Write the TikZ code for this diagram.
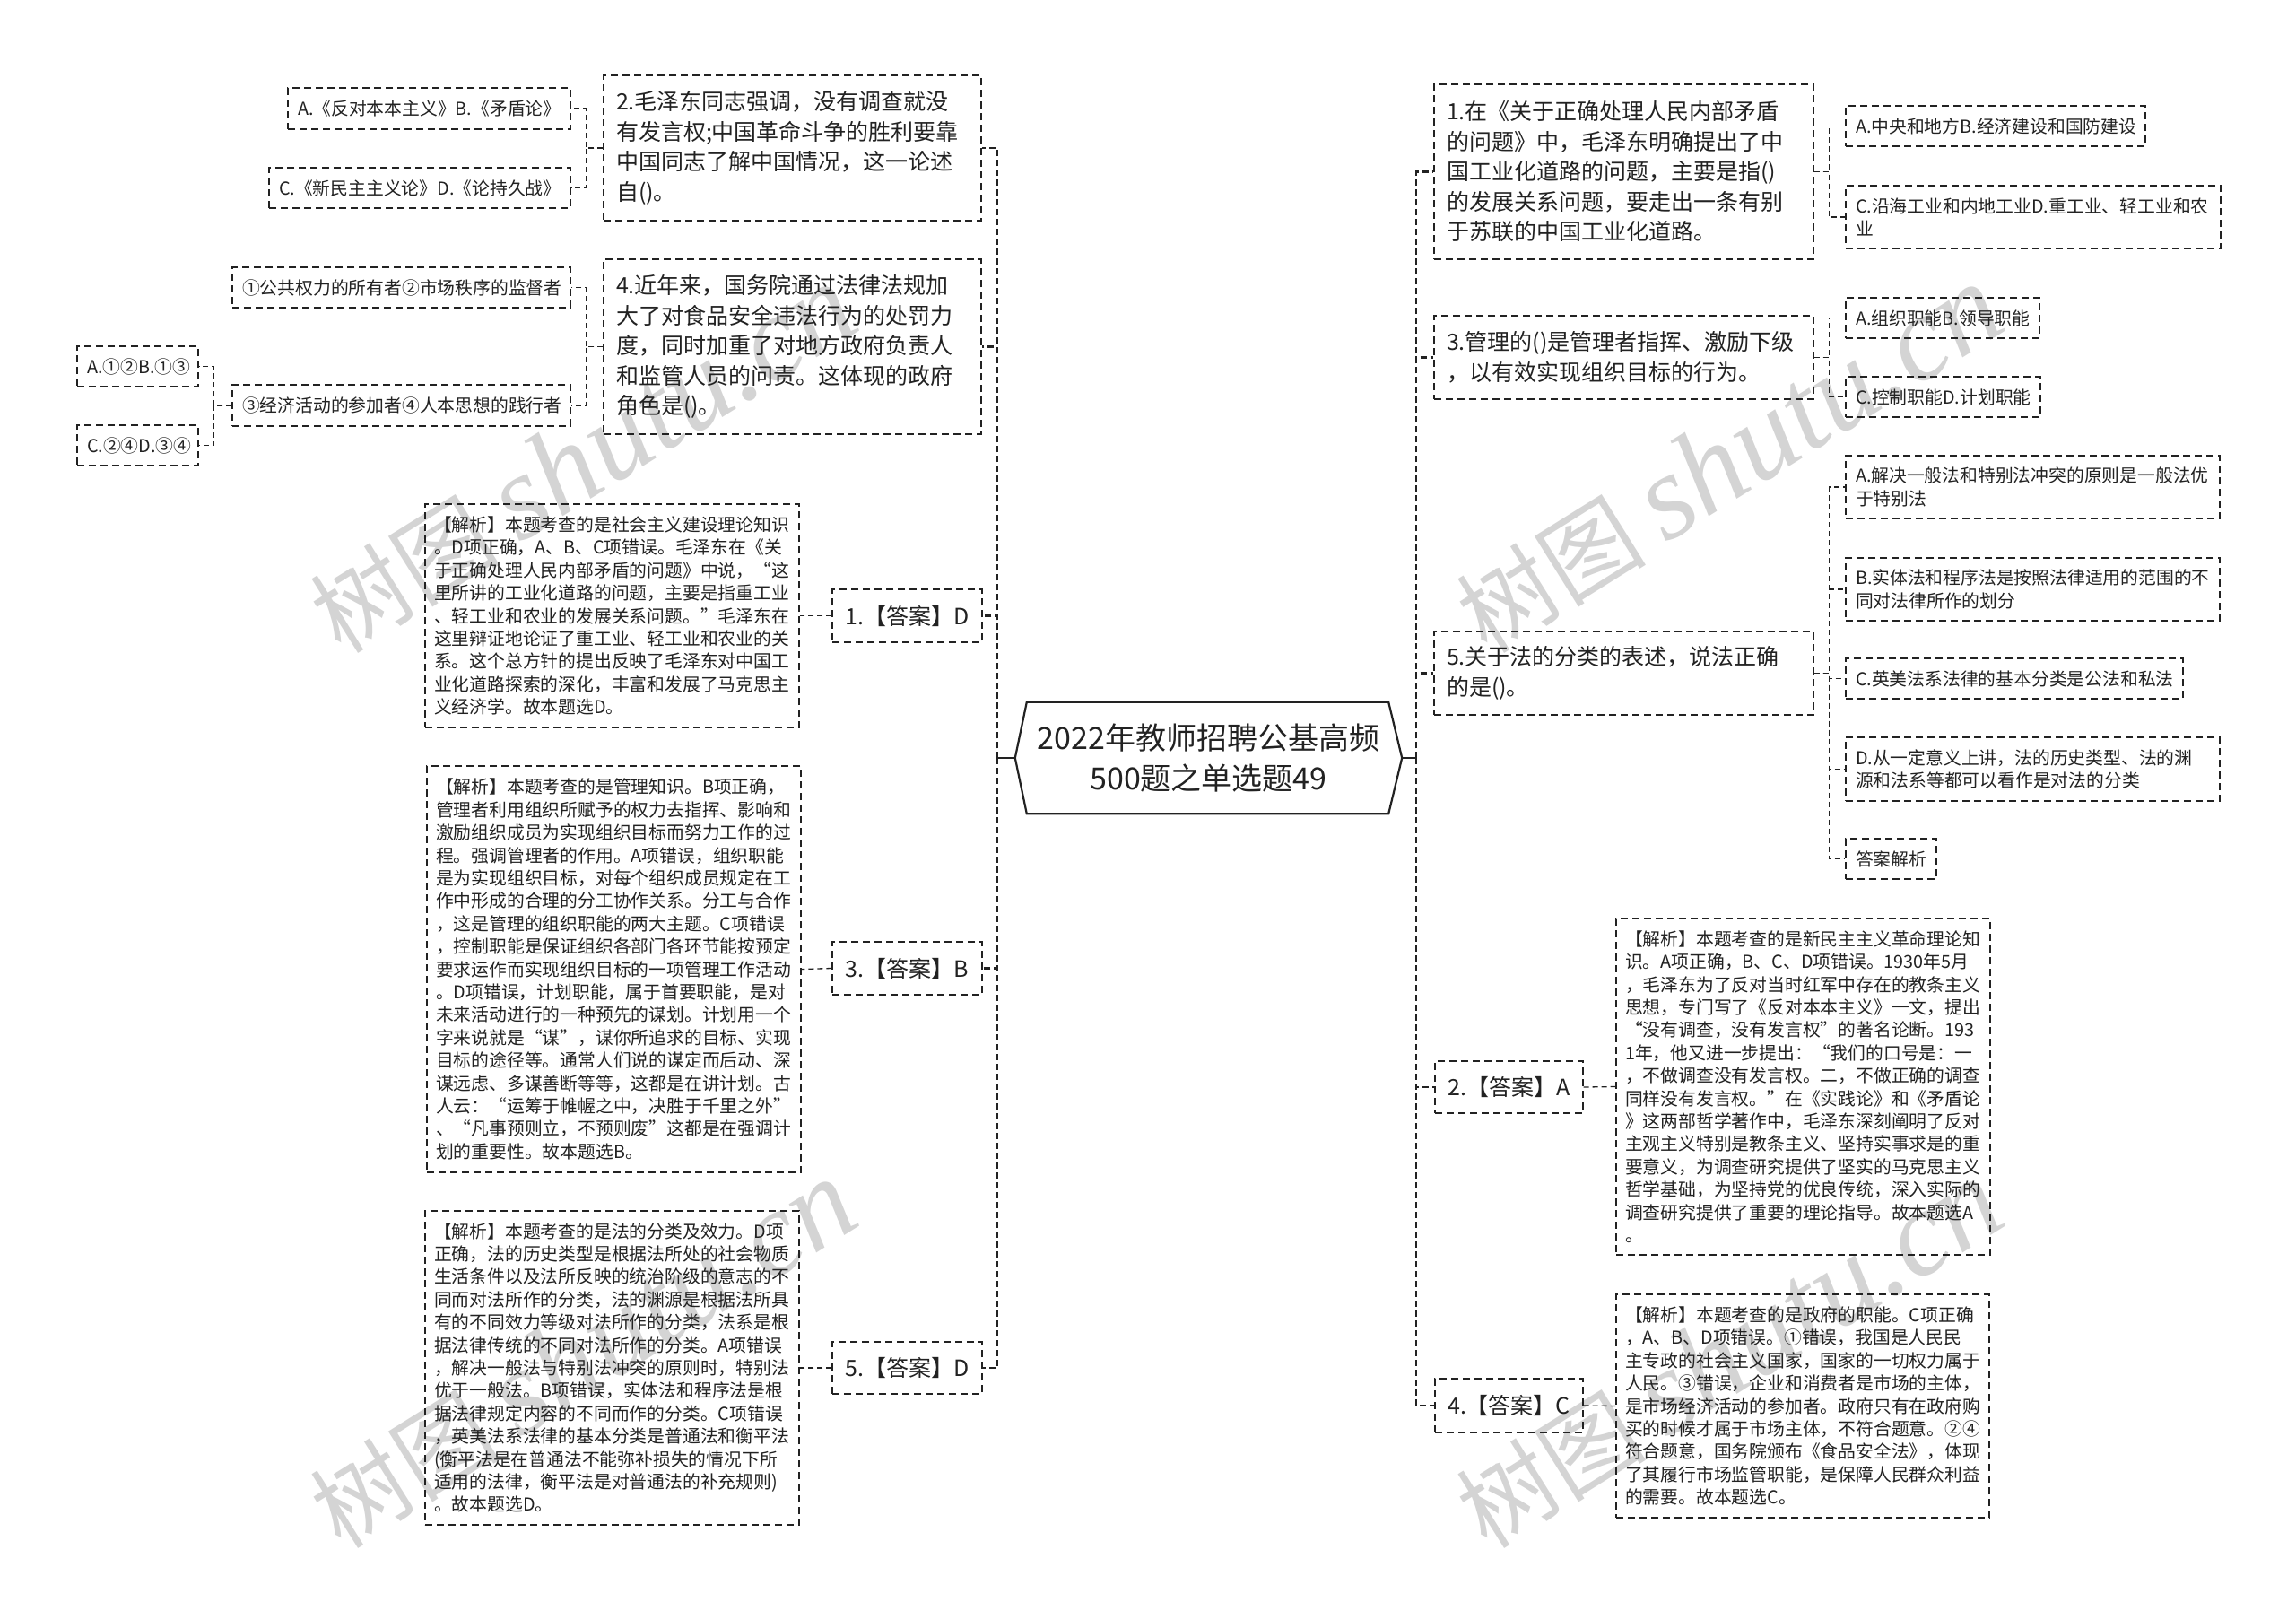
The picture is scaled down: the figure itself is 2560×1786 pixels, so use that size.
\documentclass[tikz,border=0pt]{standalone}
\usepackage{fontspec}
\setmainfont{Noto Sans CJK SC}
\newfontfamily\wmserif{Liberation Serif}
\usetikzlibrary{calc}
\definecolor{ink}{HTML}{222222}
\definecolor{wmgray}{HTML}{D4D4D4}
\newcommand{\wmtext}{{\fontsize{106pt}{106pt}\selectfont 树图}\hspace{22pt}{\wmserif\itshape\fontsize{135pt}{135pt}\selectfont shutu.cn}}
\tikzset{
  box/.style={draw=ink, line width=1.3pt, dash pattern=on 8pt off 5pt, rectangle,
    inner xsep=11pt, inner ysep=0pt, align=left, text=ink,
    font={\fontsize{19.8pt}{25.4pt}\selectfont}},
  qbox/.style={box, inner xsep=14pt, font={\fontsize{25pt}{33.5pt}\selectfont}},
  ansbox/.style={box, inner xsep=0pt, align=center, font={\fontsize{25pt}{30pt}\selectfont}},
  link/.style={draw=ink, line width=1.3pt, dash pattern=on 6pt off 4pt},
  trunk/.style={draw=ink, line width=2.4pt, dash pattern=on 7pt off 4pt},
  stub/.style={draw=ink, line width=2.4pt},
  rootnode/.style={draw=none, align=center, text=ink, inner sep=0pt,
    font={\fontsize{34pt}{44pt}\selectfont}},
  rootline/.style={draw=ink, line width=2.2pt, line join=miter},
  wm/.style={text=wmgray, inner sep=0pt, rotate=32}
}
\begin{document}
\begin{tikzpicture}[x=1pt,y=-1pt]
\path[use as bounding box] (0,0) rectangle (2560,1786);
\fill[white] (0,0) rectangle (2560,1786);

% watermarks
\node[wm] (wm1) at (650,512) {\wmtext};
\node[wm] (wm2) at (650,1510) {\wmtext};
\node[wm] (wm3) at (1928,512) {\wmtext};
\node[wm] (wm4) at (1928,1510) {\wmtext};

% root
\node[rootnode, minimum width=431pt, minimum height=124pt] (root) at (1347.5,845)
  {2022年教师招聘公基高频\\500题之单选题49};
\draw[rootline] (root.west) -- ([xshift=13pt]root.north west) -- ([xshift=-15pt]root.north east)
  -- (root.east) -- ([xshift=-15pt]root.south east) -- ([xshift=13pt]root.south west) -- cycle;

% ---------- left side ----------
\node[qbox, text width=393pt, minimum height=162pt] (q2) at (883.5,165)
  {2.毛泽东同志强调，没有调查就没\\有发言权;中国革命斗争的胜利要靠\\中国同志了解中国情况，这一论述\\自()。};
\node[qbox, text width=393pt, minimum height=195pt] (q4) at (883.5,386.5)
  {4.近年来，国务院通过法律法规加\\大了对食品安全违法行为的处罚力\\度，同时加重了对地方政府负责人\\和监管人员的问责。这体现的政府\\角色是()。};

\node[box, text width=293pt, minimum height=46pt] (o2a) at (478.5,121) {A.《反对本本主义》B.《矛盾论》};
\node[box, text width=314pt, minimum height=45pt] (o2c) at (468,209.5) {C.《新民主主义论》D.《论持久战》};
\node[box, text width=355pt, minimum height=45pt] (o4a) at (447.5,320.5) {①公共权力的所有者②市场秩序的监督者};
\node[box, text width=355pt, minimum height=46pt] (o4c) at (447.5,452) {③经济活动的参加者④人本思想的践行者};
\node[box, text width=113pt, minimum height=45pt] (o4ca) at (153.5,408.5) {A.①②B.①③};
\node[box, text width=113pt, minimum height=45pt] (o4cc) at (153.5,496.5) {C.②④D.③④};

\node[ansbox, minimum width=167pt, minimum height=59pt] (a1) at (1011.5,686.5) {1.【答案】D};
\node[ansbox, minimum width=167pt, minimum height=59pt] (a3) at (1011.5,1079.5) {3.【答案】B};
\node[ansbox, minimum width=167pt, minimum height=58pt] (a5) at (1011.5,1525) {5.【答案】D};

\node[box, inner xsep=10pt, text width=397pt, minimum height=249pt] (an1) at (682.5,686.5)
  {【解析】本题考查的是社会主义建设理论知识\\。D项正确，A、B、C项错误。毛泽东在《关\\于正确处理人民内部矛盾的问题》中说，“这\\里所讲的工业化道路的问题，主要是指重工业\\、轻工业和农业的发展关系问题。”毛泽东在\\这里辩证地论证了重工业、轻工业和农业的关\\系。这个总方针的提出反映了毛泽东对中国工\\业化道路探索的深化，丰富和发展了马克思主\\义经济学。故本题选D。};
\node[box, inner xsep=10pt, text width=397pt, minimum height=453pt] (an3) at (684.5,1080.5)
  {【解析】本题考查的是管理知识。B项正确，\\管理者利用组织所赋予的权力去指挥、影响和\\激励组织成员为实现组织目标而努力工作的过\\程。强调管理者的作用。A项错误，组织职能\\是为实现组织目标，对每个组织成员规定在工\\作中形成的合理的分工协作关系。分工与合作\\，这是管理的组织职能的两大主题。C项错误\\，控制职能是保证组织各部门各环节能按预定\\要求运作而实现组织目标的一项管理工作活动\\。D项错误，计划职能，属于首要职能，是对\\未来活动进行的一种预先的谋划。计划用一个\\字来说就是“谋”，谋你所追求的目标、实现\\目标的途径等。通常人们说的谋定而后动、深\\谋远虑、多谋善断等等，这都是在讲计划。古\\人云：“运筹于帷幄之中，决胜于千里之外”\\、“凡事预则立，不预则废”这都是在强调计\\划的重要性。故本题选B。};
\node[box, inner xsep=10pt, text width=397pt, minimum height=350pt] (an5) at (682.5,1525)
  {【解析】本题考查的是法的分类及效力。D项\\正确，法的历史类型是根据法所处的社会物质\\生活条件以及法所反映的统治阶级的意志的不\\同而对法所作的分类，法的渊源是根据法所具\\有的不同效力等级对法所作的分类，法系是根\\据法律传统的不同对法所作的分类。A项错误\\，解决一般法与特别法冲突的原则时，特别法\\优于一般法。B项错误，实体法和程序法是根\\据法律规定内容的不同而作的分类。C项错误\\，英美法系法律的基本分类是普通法和衡平法\\(衡平法是在普通法不能弥补损失的情况下所\\适用的法律，衡平法是对普通法的补充规则)\\。故本题选D。};

% ---------- right side ----------
\node[qbox, text width=395pt, minimum height=195pt] (q1) at (1810.5,191.5)
  {1.在《关于正确处理人民内部矛盾\\的问题》中，毛泽东明确提出了中\\国工业化道路的问题，主要是指()\\的发展关系问题，要走出一条有别\\于苏联的中国工业化道路。};
\node[qbox, text width=395pt, minimum height=93pt] (q3) at (1810.5,398.5)
  {3.管理的()是管理者指挥、激励下级\\，以有效实现组织目标的行为。};
\node[qbox, text width=395pt, minimum height=93pt] (q5) at (1810.5,750.5)
  {5.关于法的分类的表述，说法正确\\的是()。};

\node[box, text width=312pt, minimum height=45pt] (o1a) at (2225,140.5) {A.中央和地方B.经济建设和国防建设};
\node[box, text width=396pt, minimum height=70pt] (o1c) at (2267,242) {C.沿海工业和内地工业D.重工业、轻工业和农\\业};
\node[box, text width=194pt, minimum height=45pt] (o3a) at (2166,354.5) {A.组织职能B.领导职能};
\node[box, text width=195pt, minimum height=45pt] (o3c) at (2166.5,442.5) {C.控制职能D.计划职能};
\node[box, text width=395pt, minimum height=70pt] (o5a) at (2266.5,543) {A.解决一般法和特别法冲突的原则是一般法优\\于特别法};
\node[box, text width=395pt, minimum height=70pt] (o5b) at (2266.5,657) {B.实体法和程序法是按照法律适用的范围的不\\同对法律所作的划分};
\node[box, text width=354pt, minimum height=45pt] (o5c) at (2246,756.5) {C.英美法系法律的基本分类是公法和私法};
\node[box, text width=395pt, minimum height=71pt] (o5d) at (2266.5,857.5) {D.从一定意义上讲，法的历史类型、法的渊\\源和法系等都可以看作是对法的分类};
\node[box, text width=79pt, minimum height=45pt] (o5e) at (2108.5,957.5) {答案解析};

\node[ansbox, minimum width=165pt, minimum height=58pt] (a2) at (1682.5,1212) {2.【答案】A};
\node[ansbox, minimum width=165pt, minimum height=60pt] (a4) at (1682.5,1567) {4.【答案】C};

\node[box, inner xsep=10pt, text width=397pt, minimum height=375pt] (an2) at (2010.5,1211.5)
  {【解析】本题考查的是新民主主义革命理论知\\识。A项正确，B、C、D项错误。1930年5月\\，毛泽东为了反对当时红军中存在的教条主义\\思想，专门写了《反对本本主义》一文，提出\\“没有调查，没有发言权”的著名论断。193\\1年，他又进一步提出：“我们的口号是：一\\，不做调查没有发言权。二，不做正确的调查\\同样没有发言权。”在《实践论》和《矛盾论\\》这两部哲学著作中，毛泽东深刻阐明了反对\\主观主义特别是教条主义、坚持实事求是的重\\要意义，为调查研究提供了坚实的马克思主义\\哲学基础，为坚持党的优良传统，深入实际的\\调查研究提供了重要的理论指导。故本题选A\\。};
\node[box, inner xsep=10pt, text width=396pt, minimum height=249pt] (an4) at (2010,1567.5)
  {【解析】本题考查的是政府的职能。C项正确\\，A、B、D项错误。①错误，我国是人民民\\主专政的社会主义国家，国家的一切权力属于\\人民。③错误，企业和消费者是市场的主体，\\是市场经济活动的参加者。政府只有在政府购\\买的时候才属于市场主体，不符合题意。②④\\符合题意，国务院颁布《食品安全法》，体现\\了其履行市场监管职能，是保障人民群众利益\\的需要。故本题选C。};

% ---------- connectors ----------
% left trunk
\coordinate (lj) at ([xshift=-20pt]root.west);
\draw[stub] (root.west) -- (lj);
\draw[trunk] (lj) |- (q2.east);
\draw[trunk] (lj) |- (q4.east);
\draw[trunk] (lj) |- (a1.east);
\draw[trunk] (lj) |- (a3.east);
\draw[trunk] (lj) |- (a5.east);
% right trunk
\coordinate (rj) at ([xshift=16pt]root.east);
\draw[stub] (root.east) -- (rj);
\draw[trunk] (rj) |- (q1.west);
\draw[trunk] (rj) |- (q3.west);
\draw[trunk] (rj) |- (q5.west);
\draw[trunk] (rj) |- (a2.west);
\draw[trunk] (rj) |- (a4.west);

% left branches
\draw[link] (q2.west) -- ++(-19,0) |- (o2a.east);
\draw[link] (q2.west) -- ++(-19,0) |- (o2c.east);
\draw[link] (q4.west) -- ++(-19,0) |- (o4a.east);
\draw[link] (q4.west) -- ++(-19,0) |- (o4c.east);
\draw[link] (o4c.west) -- ++(-20,0) |- (o4ca.east);
\draw[link] (o4c.west) -- ++(-20,0) |- (o4cc.east);
\draw[link] (a1.west) -- (an1.east);
\draw[link] (a3.west) -- (an3.east);
\draw[link] (a5.west) -- (an5.east);

% right branches
\draw[link] (q1.east) -- ++(17,0) |- (o1a.west);
\draw[link] (q1.east) -- ++(17,0) |- (o1c.west);
\draw[link] (q3.east) -- ++(17,0) |- (o3a.west);
\draw[link] (q3.east) -- ++(17,0) |- (o3c.west);
\draw[link] (q5.east) -- ++(17,0) |- (o5a.west);
\draw[link] (q5.east) -- ++(17,0) |- (o5b.west);
\draw[link] (q5.east) -- ++(17,0) |- (o5c.west);
\draw[link] (q5.east) -- ++(17,0) |- (o5d.west);
\draw[link] (q5.east) -- ++(17,0) |- (o5e.west);
\draw[link] (a2.east) -- (an2.west);
\draw[link] (a4.east) -- (an4.west);
\end{tikzpicture}
\end{document}
